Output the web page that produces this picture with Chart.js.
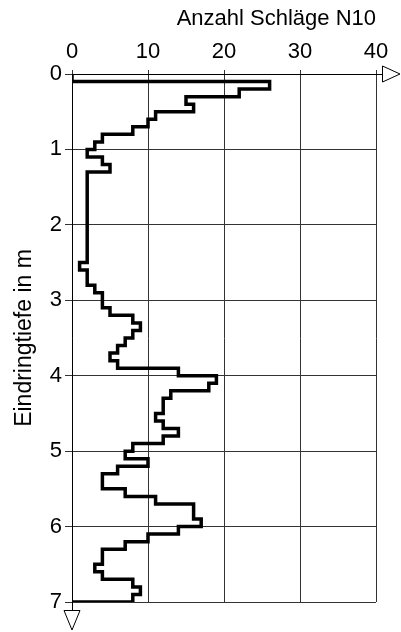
<!DOCTYPE html>
<html>
<head>
<meta charset="utf-8">
<script src="https://cdn.jsdelivr.net/npm/chart.js@4.4.0/dist/chart.umd.min.js"></script>
<style>
  html, body { margin: 0; padding: 0; background: #fff; }
  #wrap { width: 401px; height: 632px; }
</style>
</head>
<body>
<div id="wrap"><canvas id="sondierung"></canvas></div>
<script>
// Schlagzahlen je 10 cm Eindringung, von oben nach unten
stepDepth = 0.1;
blows = [0, 26, 22, 15, 16, 11, 10, 8, 4, 3,
  2, 4, 5, 2, 2, 2, 2, 2, 2, 2,
  2, 2, 2, 2, 2, 1, 2, 2, 3, 4,
  4, 5, 8, 9, 8, 7, 6, 5, 6, 14,
  19, 18, 13, 12, 12, 11, 12, 14, 12, 8,
  7, 10, 6, 4, 4, 7, 11, 16, 16, 17,
  14, 10, 7, 4, 4, 3, 4, 8, 9, 8];
endValue = 0;
depthTicks = [0, 1, 2, 3, 4, 5, 6, 7];
blowTicks = [0, 10, 20, 30, 40];
xTitle = 'Anzahl Schläge N10';
yTitle = 'Eindringtiefe in m';

fontFamily = '"Liberation Sans", Arial, sans-serif';

points = [];
for (var i = 0; i < blows.length; i++) {
  points.push({x: blows[i], y: i * stepDepth});
}
points.push({x: endValue, y: blows.length * stepDepth});

// Pfeile an den Achsenenden
const arrowPlugin = {
  id: 'arrows',
  afterDraw(chart) {
    const ctx = chart.ctx;
    const a = chart.chartArea;
    ctx.save();
    ctx.strokeStyle = '#000';
    ctx.fillStyle = '#fff';
    ctx.lineWidth = 1;
    // x-Achse verlaengern
    ctx.beginPath();
    ctx.moveTo(a.left, Math.round(a.top) + 0.5);
    ctx.lineTo(a.right + 6, Math.round(a.top) + 0.5);
    ctx.stroke();
    ctx.beginPath();
    ctx.moveTo(a.right + 6.5, a.top - 8);
    ctx.lineTo(a.right + 24, a.top);
    ctx.lineTo(a.right + 6.5, a.top + 8);
    ctx.closePath();
    ctx.fill();
    ctx.stroke();
    // y-Achse verlaengern
    ctx.beginPath();
    ctx.moveTo(Math.round(a.left) + 0.5, a.bottom);
    ctx.lineTo(Math.round(a.left) + 0.5, a.bottom + 8);
    ctx.stroke();
    ctx.beginPath();
    ctx.moveTo(a.left - 8, a.bottom + 8.5);
    ctx.lineTo(a.left, a.bottom + 28);
    ctx.lineTo(a.left + 8, a.bottom + 8.5);
    ctx.closePath();
    ctx.fill();
    ctx.stroke();
    ctx.restore();
  }
};

new Chart(document.getElementById('sondierung'), {
  type: 'scatter',
  data: {
    datasets: [{
      data: points,
      showLine: true,
      stepped: 'after',
      borderColor: '#000',
      borderWidth: 3.5,
      borderJoinStyle: 'miter',
      pointRadius: 0,
      fill: false
    }]
  },
  options: {
    responsive: true,
    maintainAspectRatio: false,
    animation: false,
    events: [],
    layout: {
      padding: {top: 0, left: 0, right: 25, bottom: 30}
    },
    plugins: {
      legend: {display: false},
      tooltip: {enabled: false}
    },
    scales: {
      x: {
        type: 'linear',
        position: 'top',
        min: blowTicks[0],
        max: blowTicks[blowTicks.length - 1],
        afterBuildTicks: function(scale) {
          scale.ticks = blowTicks.map(function(v) { return {value: v}; });
        },
        afterFit: function(scale) { scale.height = 74; },
        title: {
          display: true,
          text: xTitle,
          align: 'end',
          color: '#000',
          font: {family: fontFamily, size: 22},
          padding: {top: 6, bottom: 0}
        },
        ticks: {
          color: '#000',
          padding: 5,
          font: {family: fontFamily, size: 22}
        },
        grid: {
          color: '#333',
          lineWidth: 1,
          tickLength: 4
        },
        border: {color: '#000', width: 1}
      },
      y: {
        type: 'linear',
        reverse: true,
        min: depthTicks[0],
        max: depthTicks[depthTicks.length - 1],
        afterBuildTicks: function(scale) {
          scale.ticks = depthTicks.map(function(v) { return {value: v}; });
        },
        afterFit: function(scale) { scale.width = 72; },
        title: {
          display: true,
          text: yTitle,
          color: '#000',
          font: {family: fontFamily, size: 23},
          padding: {top: 11, bottom: 0}
        },
        ticks: {
          color: '#000',
          padding: 3,
          font: {family: fontFamily, size: 22}
        },
        grid: {
          color: '#333',
          lineWidth: 1,
          tickLength: 7
        },
        border: {color: '#000', width: 1}
      }
    }
  },
  plugins: [arrowPlugin]
});
</script>
</body>
</html>
